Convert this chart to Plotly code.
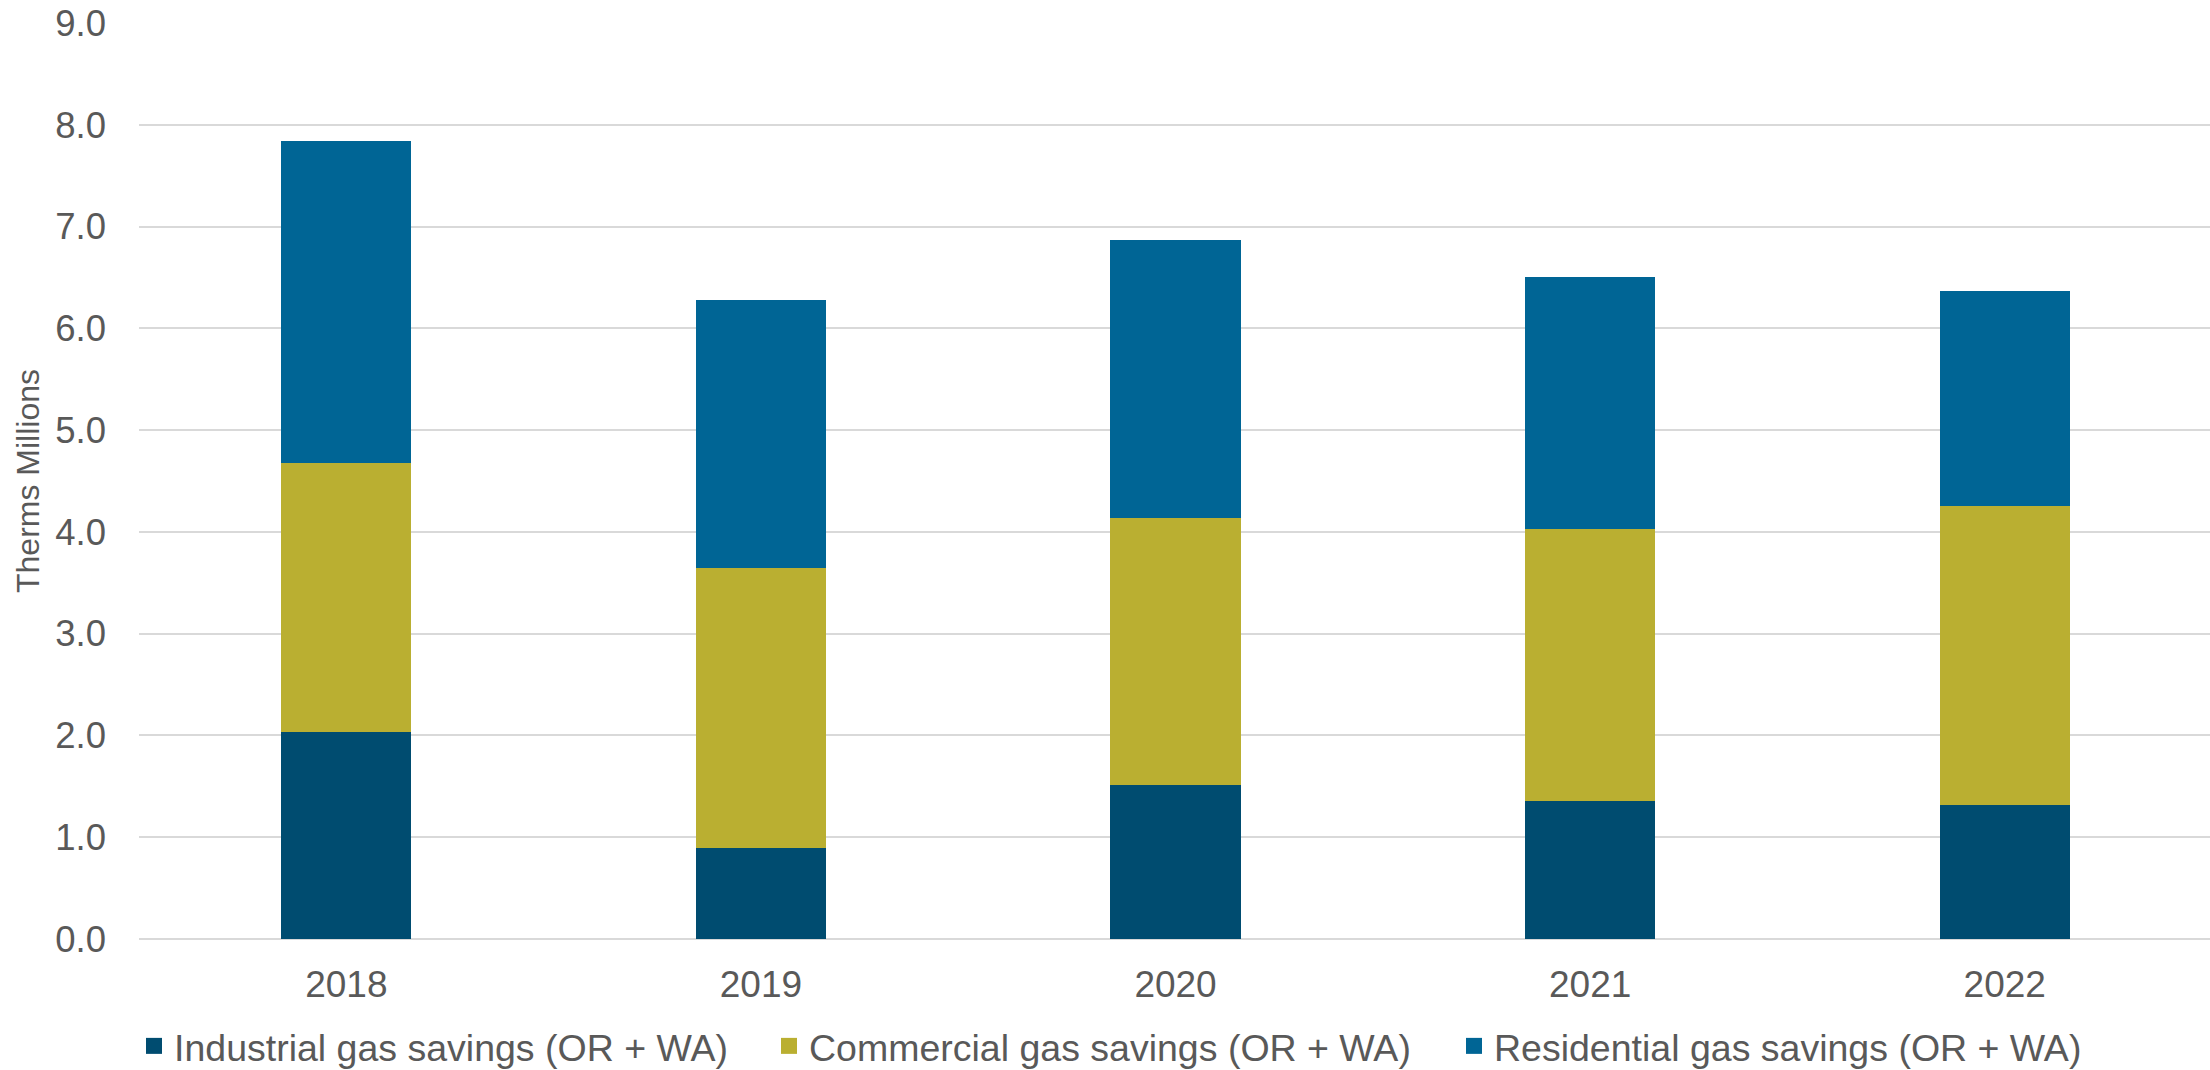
import plotly.graph_objects as go

# Annual gas savings by sector, millions of therms
years = ["2018", "2019", "2020", "2021", "2022"]
industrial = [2.03, 0.89, 1.51, 1.36, 1.32]
commercial = [2.65, 2.76, 2.63, 2.67, 2.93]
residential = [3.16, 2.63, 2.73, 2.47, 2.12]

series_names = [
    "Industrial gas savings (OR + WA)",
    "Commercial gas savings (OR + WA)",
    "Residential gas savings (OR + WA)",
]
series_colors = ["#004C70", "#BAAF31", "#006595"]
y_ticks = [0, 1, 2, 3, 4, 5, 6, 7, 8, 9]

text_color = "#595959"
font_family = "Liberation Sans, Arial, sans-serif"

# one legend box per series so each entry sits at its own spot
legend_ids = ["legend", "legend2", "legend3"]
legend_left_px = [134, 769, 1454]

fig = go.Figure()
for name, vals, color, lid in zip(series_names, [industrial, commercial, residential],
                                  series_colors, legend_ids):
    fig.add_trace(go.Bar(
        x=years, y=vals, name=name,
        marker=dict(color=color, line=dict(width=0)),
        showlegend=False,
    ))
    # square legend swatch
    fig.add_trace(go.Scatter(
        x=[None], y=[None], mode="markers", name=name,
        marker=dict(symbol="square", size=16, color=color),
        showlegend=True, legend=lid,
    ))

margin_l, margin_r, margin_t, margin_b = 139, 0, 23, 131
fig_w, fig_h = 2210, 1070
plot_w = fig_w - margin_l - margin_r
plot_h = fig_h - margin_t - margin_b
legend_center_y = 1046

layout_legends = {}
for lid, left in zip(legend_ids, legend_left_px):
    layout_legends[lid] = dict(
        orientation="h",
        x=(left - margin_l) / plot_w, xanchor="left",
        y=-(legend_center_y - (fig_h - margin_b)) / plot_h, yanchor="middle",
        font=dict(size=37.5, color=text_color, family=font_family),
        itemwidth=30,
        bgcolor="rgba(0,0,0,0)",
    )

fig.update_layout(
    width=fig_w, height=fig_h,
    barmode="stack",
    bargap=0.686,
    paper_bgcolor="white",
    plot_bgcolor="white",
    margin=dict(l=margin_l, r=margin_r, t=margin_t, b=margin_b, autoexpand=False),
    font=dict(family=font_family, color=text_color),
    **layout_legends,
)

fig.update_xaxes(
    type="category",
    range=[-0.5, 4.495],
    showgrid=False,
    showline=False,
    ticks="",
    tickfont=dict(size=37, color=text_color),
    ticklabelstandoff=20,
)

fig.update_yaxes(
    range=[0, 9],
    tickvals=y_ticks,
    tickformat=".1f",
    showgrid=True,
    gridcolor="#D9D9D9",
    gridwidth=1.5,
    zeroline=True,
    zerolinecolor="#D9D9D9",
    zerolinewidth=1.5,
    showline=False,
    ticks="",
    tickfont=dict(size=36.5, color=text_color),
    ticklabelstandoff=32,
    title=dict(text="Therms Millions",
               font=dict(size=32, color=text_color, family=font_family),
               standoff=6),
)

fig.write_html("out.html")
